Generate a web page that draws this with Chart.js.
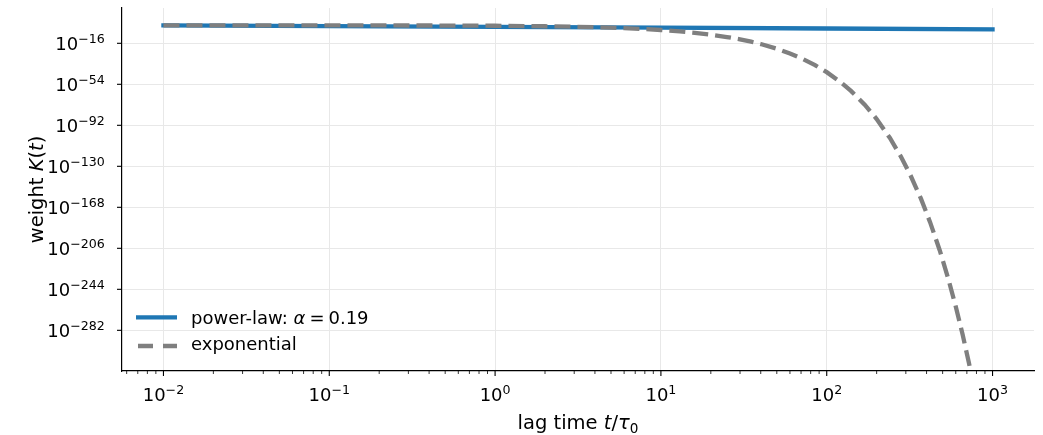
<!DOCTYPE html>
<html><head><meta charset="utf-8">
<script src="https://cdn.jsdelivr.net/npm/chart.js@4/dist/chart.umd.min.js"></script>
<style>html,body{margin:0;padding:0;background:#fff}#c{display:block}</style>
</head><body>
<canvas id="c" width="1043" height="435"></canvas>
<script>
// ---- data ----
const lagTimesPowerLaw = [0.01, 0.1, 1, 10, 100, 1000];
const weightPowerLaw = [4.8, 0.88, 0.16, 0.030, 5.5e-3, 1.0e-3];

const lagTimesExp = [0.01, 0.1, 0.5, 1, 2, 3, 4, 5, 6, 8, 10, 13, 16, 20, 25, 30, 35, 40, 50, 60, 70, 85, 100, 120, 140, 170, 200, 240, 280, 320, 370, 420, 480, 540, 600, 660, 720, 745];
const weightExp = [4.8, 4.4, 2.9, 1.8, 0.65, 0.24, 0.089, 0.033, 0.012, 1.6e-3, 2.2e-4, 1.1e-5, 5.4e-7, 1.0e-8, 6.7e-11, 4.5e-13, 3.0e-15, 2.0e-17, 9.3e-22, 4.2e-26, 1.9e-30, 5.9e-37, 1.8e-43, 3.7e-52, 7.6e-61, 7.1e-74, 6.6e-87, 2.8e-104, 1.2e-121, 5.1e-139, 9.8e-161, 1.9e-182, 1.7e-208, 1.4e-234, 1.3e-260, 1.1e-286, 9.8e-313, 1.5e-323];

const seriesLabels = ['power-law', 'exponential'];
const alphaValue = '0.19';

const xTickValues = [1e-2, 1e-1, 1, 10, 100, 1000];
const xTickExponents = ['\u22122', '\u22121', '0', '1', '2', '3'];
const yTickValues = [1e-16, 1e-54, 1e-92, 1e-130, 1e-168, 1e-206, 1e-244, 1e-282];
const yTickExponents = ['\u221216', '\u221254', '\u221292', '\u2212130', '\u2212168', '\u2212206', '\u2212244', '\u2212282'];

const X_MIN = 0.0056234, X_MAX = 1778.28;
const Y_MIN = 2e-320, Y_MAX = 5.2e16;

// ---- styles ----
const FAM = '"DejaVu Sans"';
const BLUE = '#1f77b4', GRAY = '#7f7f7f';

function font(size, italic) { return (italic ? 'italic ' : '') + size + 'px ' + FAM; }
function runsWidth(ctx, runs) {
  let w = 0;
  for (const r of runs) {
    if (r.gap) { w += r.gap; continue; }
    ctx.font = r.f; w += ctx.measureText(r.t).width;
  }
  return w;
}
function drawRuns(ctx, runs, x, y) {
  ctx.textAlign = 'left'; ctx.textBaseline = 'alphabetic';
  for (const r of runs) {
    if (r.gap) { x += r.gap; continue; }
    ctx.font = r.f;
    ctx.fillText(r.t, x, y + (r.dy || 0));
    x += ctx.measureText(r.t).width;
  }
  return x;
}

const decor = {
  id: 'decor',
  afterDraw(chart) {
    const ctx = chart.ctx, xs = chart.scales.x, ys = chart.scales.y, a = chart.chartArea;
    ctx.save();
    ctx.fillStyle = '#000'; ctx.strokeStyle = '#000';
    // x major ticks + labels
    ctx.lineWidth = 1.1;
    xTickValues.forEach((v, i) => {
      const px = xs.getPixelForValue(v);
      ctx.beginPath(); ctx.moveTo(px, a.bottom); ctx.lineTo(px, a.bottom + 5); ctx.stroke();
      const runs = [{t: '10', f: font(18)}, {t: xTickExponents[i], f: font(12.6), dy: -6.6}];
      const w = runsWidth(ctx, runs);
      drawRuns(ctx, runs, px - w / 2, 400.5);
    });
    // x minor ticks
    ctx.lineWidth = 0.8;
    for (let d = -3; d <= 3; d++) {
      for (let m = 2; m <= 9; m++) {
        const v = m * Math.pow(10, d);
        if (v < X_MIN || v > X_MAX) continue;
        const px = xs.getPixelForValue(v);
        ctx.beginPath(); ctx.moveTo(px, a.bottom); ctx.lineTo(px, a.bottom + 3); ctx.stroke();
      }
    }
    // y ticks + labels
    ctx.lineWidth = 1.1;
    yTickValues.forEach((v, i) => {
      const py = ys.getPixelForValue(v);
      ctx.beginPath(); ctx.moveTo(a.left, py); ctx.lineTo(a.left - 5, py); ctx.stroke();
      const runs = [{t: '10', f: font(18)}, {t: yTickExponents[i], f: font(12.6), dy: -6.7}];
      const w = runsWidth(ctx, runs);
      drawRuns(ctx, runs, 104.8 - w, py + 6.7);
    });
    // x axis title
    const xr = [{t: 'lag time ', f: font(19.5)}, {t: 't', f: font(19.5, true)}, {t: '/', f: font(19.5)},
                {t: '\u03c4', f: font(19.5, true)}, {t: '0', f: font(13.6), dy: 3.5}];
    const xw = runsWidth(ctx, xr);
    drawRuns(ctx, xr, (a.left + a.right) / 2 - xw / 2, 429);
    // y axis title
    const yr = [{t: 'weight ', f: font(19.5)}, {t: 'K', f: font(19.5, true)}, {t: '(', f: font(19.5)},
                {t: 't', f: font(19.5, true)}, {t: ')', f: font(19.5)}];
    const yw = runsWidth(ctx, yr);
    ctx.save();
    ctx.translate(43, (a.top + a.bottom) / 2);
    ctx.rotate(-Math.PI / 2);
    drawRuns(ctx, yr, -yw / 2, 0);
    ctx.restore();
    // legend
    const ds = chart.data.datasets;
    ctx.lineCap = 'butt';
    ctx.strokeStyle = ds[0].borderColor; ctx.lineWidth = ds[0].borderWidth;
    ctx.beginPath(); ctx.moveTo(136, 317.3); ctx.lineTo(177, 317.3); ctx.stroke();
    ctx.strokeStyle = ds[1].borderColor; ctx.lineWidth = ds[1].borderWidth;
    ctx.setLineDash([15, 10]);
    ctx.beginPath(); ctx.moveTo(138, 346); ctx.lineTo(177, 346); ctx.stroke();
    ctx.setLineDash([]);
    ctx.fillStyle = '#000';
    drawRuns(ctx, [{t: seriesLabels[0] + ': ', f: font(18)}, {t: '\u03b1', f: font(18, true)}, {gap: 4},
                   {t: '=', f: font(18)}, {gap: 4}, {t: alphaValue, f: font(18)}], 191, 323.5);
    drawRuns(ctx, [{t: seriesLabels[1], f: font(18)}], 191, 349.5);
    ctx.restore();
  }
};

new Chart(document.getElementById('c'), {
  type: 'line',
  data: {
    datasets: [
      {
        label: seriesLabels[0] + ': \u03b1 = ' + alphaValue,
        data: lagTimesPowerLaw.map((t, i) => ({x: t, y: weightPowerLaw[i]})),
        borderColor: BLUE, backgroundColor: BLUE, borderWidth: 4.3, borderCapStyle: 'square',
        pointRadius: 0, tension: 0, fill: false, order: 2, clip: 0
      },
      {
        label: seriesLabels[1],
        data: lagTimesExp.map((t, i) => ({x: t, y: weightExp[i]})),
        borderColor: GRAY, backgroundColor: GRAY, borderWidth: 4.3, borderDash: [16, 7], borderCapStyle: 'butt',
        pointRadius: 0, tension: 0, fill: false, order: 1, clip: 0
      }
    ]
  },
  options: {
    responsive: false, animation: false, devicePixelRatio: 1,
    layout: {padding: {left: 122, top: 8, right: 9, bottom: 64}},
    plugins: {legend: {display: false}, tooltip: {enabled: false}, title: {display: false}},
    scales: {
      x: {
        type: 'logarithmic', position: 'bottom', min: X_MIN, max: X_MAX,
        afterBuildTicks: (s) => { s.ticks = xTickValues.map(v => ({value: v, major: true})); },
        ticks: {display: false, callback: () => ''},
        grid: {color: '#e8e8e8', lineWidth: 1, drawTicks: false},
        border: {display: true, color: '#000', width: 1.2},
        title: {display: false}
      },
      y: {
        type: 'logarithmic', position: 'left', min: Y_MIN, max: Y_MAX,
        afterBuildTicks: (s) => { s.ticks = yTickValues.map(v => ({value: v, major: true})); },
        ticks: {display: false, callback: () => ''},
        grid: {color: '#e8e8e8', lineWidth: 1, drawTicks: false},
        border: {display: true, color: '#000', width: 1.2},
        title: {display: false}
      }
    }
  },
  plugins: [decor]
});
</script>
</body></html>
